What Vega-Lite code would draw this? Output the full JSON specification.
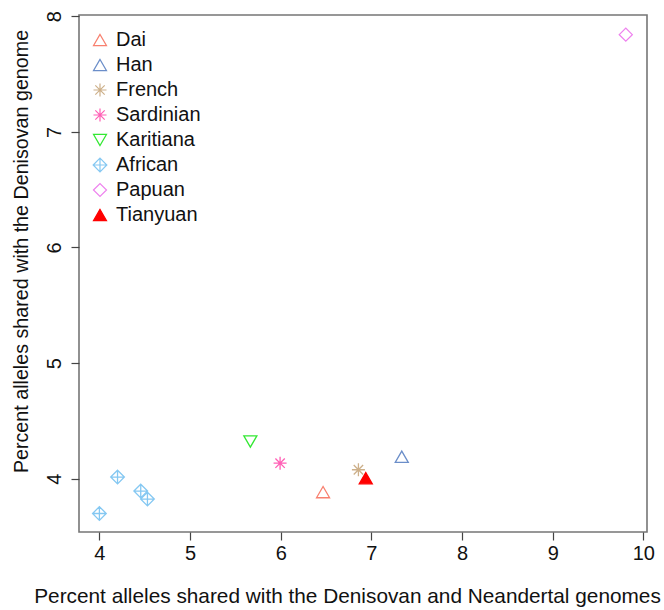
{
  "$schema": "https://vega.github.io/schema/vega-lite/v6.json",
  "autosize": "none",
  "padding": {"left": 79, "top": 15, "right": 17, "bottom": 78},
  "width": 568,
  "height": 517,
  "background": "white",
  "config": {
    "font": "Liberation Sans",
    "view": {"stroke": "#767676", "strokeWidth": 1.6},
    "axis": {"grid": false, "domain": false, "tickColor": "#444", "tickSize": 8, "tickWidth": 1.2, "labelFontSize": 20, "labelColor": "#111", "titleFontSize": 20.5, "titleColor": "#111", "titleFontWeight": "normal", "labelFont": "Liberation Sans", "titleFont": "Liberation Sans"},
    "legend": {"labelFont": "Liberation Sans", "labelFontSize": 20, "labelColor": "#111"}
  },
  "data": {
    "values": [
      {"pop": "Dai", "x": 6.467, "y": 3.885},
      {"pop": "Han", "x": 7.335, "y": 4.19},
      {"pop": "French", "x": 6.857, "y": 4.078},
      {"pop": "Sardinian", "x": 5.993, "y": 4.135},
      {"pop": "Karitiana", "x": 5.665, "y": 4.322},
      {"pop": "African", "x": 4.0, "y": 3.70},
      {"pop": "African", "x": 4.20, "y": 4.015},
      {"pop": "African", "x": 4.456, "y": 3.894},
      {"pop": "African", "x": 4.53, "y": 3.825},
      {"pop": "Papuan", "x": 9.806, "y": 7.84},
      {"pop": "Tianyuan", "x": 6.938, "y": 4.005}
    ]
  },
  "mark": {"type": "point", "size": 170, "strokeWidth": 1.3, "opacity": 1},
  "encoding": {
    "x": {
      "field": "x", "type": "quantitative",
      "scale": {"domain": [3.775, 10.04], "nice": false, "zero": false},
      "axis": {"values": [4, 5, 6, 7, 8, 9, 10], "labelPadding": 3, "title": "Percent alleles shared with the Denisovan and Neandertal genomes", "titleFontSize": 20.8, "titleX": 268, "titleY": 64, "titleAlign": "center", "titleBaseline": "middle", "titleAnchor": null}
    },
    "y": {
      "field": "y", "type": "quantitative",
      "scale": {"domain": [3.54, 8.01], "nice": false, "zero": false},
      "axis": {"values": [4, 5, 6, 7, 8], "labelAngle": 270, "labelAlign": "center", "labelBaseline": "bottom", "labelPadding": 7, "title": "Percent alleles shared with the Denisovan genome", "titleFontSize": 19.7, "titleAngle": 270, "titleX": -58, "titleY": 236, "titleAlign": "center", "titleBaseline": "middle", "titleAnchor": null}
    },
    "shape": {
      "field": "pop", "type": "nominal",
      "scale": {
        "domain": ["Dai", "Han", "French", "Sardinian", "Karitiana", "African", "Papuan", "Tianyuan"],
        "range": ["triangle-up", "triangle-up", "M-1,0L1,0M0,-1L0,1M-0.72,-0.72L0.72,0.72M-0.72,0.72L0.72,-0.72", "M-1,0L1,0M0,-1L0,1M-0.72,-0.72L0.72,0.72M-0.72,0.72L0.72,-0.72", "triangle-down", "M0,-1.05L1.05,0L0,1.05L-1.05,0ZM-1.05,0L1.05,0M0,-1.05L0,1.05", "diamond", "triangle-up"]
      },
      "legend": {"title": null, "orient": "none", "legendX": 11, "legendY": 15, "padding": 0, "symbolSize": 170, "symbolStrokeWidth": 1.2, "labelOffset": 6, "rowPadding": 5, "symbolOpacity": 1}
    },
    "stroke": {
      "field": "pop", "type": "nominal",
      "scale": {
        "domain": ["Dai", "Han", "French", "Sardinian", "Karitiana", "African", "Papuan", "Tianyuan"],
        "range": ["#F8806F", "#6B8EC9", "#CDB08A", "#FF5FB5", "#33E833", "#85C8F2", "#EE82EE", "#FF0000"]
      }
    },
    "fill": {
      "field": "pop", "type": "nominal",
      "scale": {
        "domain": ["Dai", "Han", "French", "Sardinian", "Karitiana", "African", "Papuan", "Tianyuan"],
        "range": ["transparent", "transparent", "transparent", "transparent", "transparent", "transparent", "transparent", "#FF0000"]
      }
    }
  }
}
